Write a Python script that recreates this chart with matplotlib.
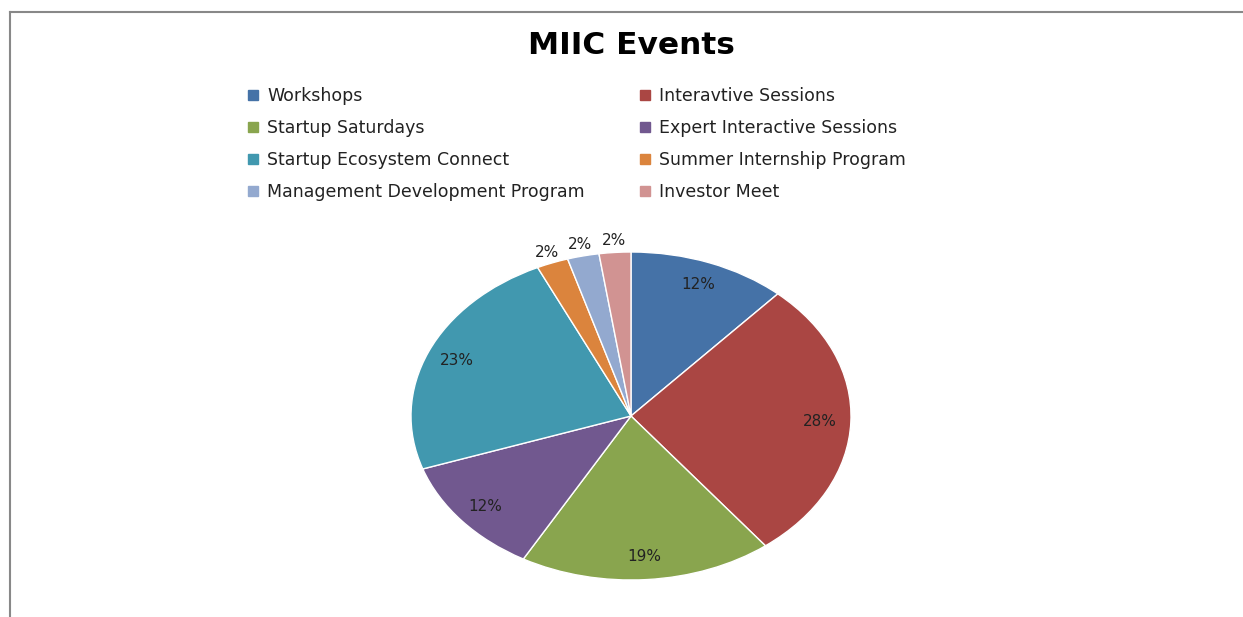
import numpy as np
import matplotlib
matplotlib.use("Agg")
import matplotlib.pyplot as plt
from matplotlib.lines import Line2D

plt.rcParams["font.family"] = ["DejaVu Sans"]

# event counts
labels = ["Workshops", "Interavtive Sessions", "Startup Saturdays",
          "Expert Interactive Sessions", "Startup Ecosystem Connect",
          "Summer Internship Program", "Management Development Program",
          "Investor Meet"]
counts = [5, 12, 8, 5, 10, 1, 1, 1]
colors = ["#4572A7", "#AA4643", "#89A54E", "#71588F",
          "#4198AF", "#DB843D", "#93A9CF", "#D19392"]

W, H = 1243, 617
fig = plt.figure(figsize=(W / 100, H / 100), dpi=100)

# pie axes sized to the (horizontally stretched) ellipse
ax = fig.add_axes([411 / W, (H - 580) / H, 440 / W, 328 / H])
wedges, _ = ax.pie(counts, colors=colors, startangle=90, counterclock=False,
                   wedgeprops=dict(edgecolor="white", linewidth=1))
ax.set_aspect("auto")
ax.set_xlim(-1, 1)
ax.set_ylim(-1, 1)

total = sum(counts)
for w, c in zip(wedges, counts):
    frac = c / total
    ang = np.deg2rad((w.theta1 + w.theta2) / 2)
    r = 0.86 if frac > 0.05 else 1.07
    ax.text(r * np.cos(ang), r * np.sin(ang), f"{frac * 100:.0f}%",
            ha="center", va="center", fontsize=11, color="#222222")

fig.text(631 / W, 1 - 46 / H, "MIIC Events", ha="center", va="center",
         fontsize=22.5, fontweight="bold")

# legend: two columns, row-major order
def make_legend(idx, x):
    handles = [Line2D([], [], marker="s", linestyle="none", markersize=7.5,
                      markerfacecolor=colors[i], markeredgecolor=colors[i])
               for i in idx]
    leg = fig.legend(handles, [labels[i] for i in idx], loc="upper left",
                     bbox_to_anchor=(x / W, 1 - 87 / H), frameon=False,
                     fontsize=12.5, handlelength=0.7, handletextpad=0.45,
                     labelspacing=0.8, borderaxespad=0, borderpad=0)
    for t in leg.get_texts():
        t.set_color("#222222")
    return leg

make_legend([0, 2, 4, 6], 247)
make_legend([1, 3, 5, 7], 639)

# chart border (top and left edges visible)
fig.add_artist(Line2D([10 / W, 10 / W], [0, 1 - 12 / H], color="#888888",
                      linewidth=1.5, transform=fig.transFigure))
fig.add_artist(Line2D([10 / W, 1], [1 - 12 / H, 1 - 12 / H], color="#888888",
                      linewidth=1.5, transform=fig.transFigure))

fig.savefig("out.png", dpi=100, facecolor="white")
